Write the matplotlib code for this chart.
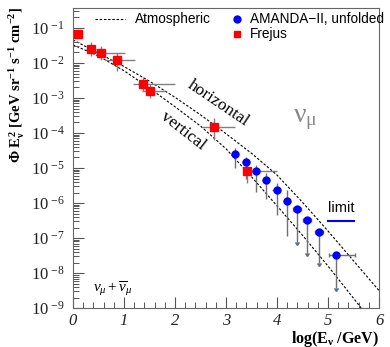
import numpy as np
import matplotlib
matplotlib.use("Agg")
import matplotlib.pyplot as plt
from matplotlib.ticker import FixedLocator, FuncFormatter, LogLocator, NullFormatter

plt.rcParams["font.family"] = "Liberation Serif"
plt.rcParams["mathtext.fontset"] = "custom"
plt.rcParams["mathtext.rm"] = "Liberation Serif"
plt.rcParams["mathtext.it"] = "Liberation Serif:italic"
plt.rcParams["mathtext.bf"] = "Liberation Serif:bold"
plt.rcParams["mathtext.fallback"] = "stix"

# atmospheric flux bands, log10(E^2 Phi)
atm_x = [0, 0.5, 1, 1.5, 2, 2.5, 3, 3.5, 4, 4.5, 5, 5.5, 6]
horiz_log = [-1.34, -1.72, -2.10, -2.52, -2.98, -3.48, -4.02, -4.58, -5.20, -5.98, -6.80, -7.65, -8.50]
vert_x = [0, 0.5, 1, 1.5, 2, 2.5, 3, 3.5, 4, 4.5, 5, 5.5, 5.65]
vert_log = [-1.48, -1.80, -2.22, -2.72, -3.25, -3.80, -4.45, -5.25, -6.08, -6.92, -7.80, -8.72, -9.0]

# Frejus
frejus_x = [0.09, 0.35, 0.55, 0.87, 1.38, 1.51, 2.76, 3.42]
frejus_log = [-1.17, -1.60, -1.71, -1.91, -2.61, -2.79, -3.84, -5.08]
frejus_xlo = [0.0, 0.10, 0.09, 0.24, 0.20, 0.16, 0.24, 0.08]
frejus_xhi = [0.0, 0.10, 0.47, 0.35, 0.62, 0.29, 0.42, 0.58]
frejus_dlo = [0.08, 0.19, 0.20, 0.33, 0.20, 0.22, 0.36, 0.35]
frejus_dhi = [0.08, 0.19, 0.20, 0.19, 0.20, 0.18, 0.26, 0.22]

# AMANDA-II unfolded
amanda_x = [3.18, 3.39, 3.58, 3.79, 3.99, 4.19, 4.39, 4.59, 4.82, 5.16]
amanda_log = [-4.60, -4.82, -5.09, -5.34, -5.63, -5.93, -6.16, -6.47, -6.84, -7.49]
amanda_xlo = [0.08, 0.08, 0.08, 0.08, 0.08, 0.08, 0.08, 0.08, 0.08, 0.14]
amanda_xhi = [0.08, 0.08, 0.08, 0.08, 0.08, 0.08, 0.08, 0.08, 0.08, 0.37]
amanda_dlo = [0.41, 0.48, 0.59, 0.53, 0.71, 1.00, 0.94, 0.96, 0.86, 0.94]
amanda_dhi = [0.16, 0.14, 0.17, 0.19, 0.20, 0.30, 0.34, 0.36, 0.50, 0.88]
amanda_arrow = [False, False, False, False, False, False, True, True, True, True]

limit_x = [5.0, 5.5]
limit_log = [-6.5, -6.5]

x_ticks = [0, 1, 2, 3, 4, 5, 6]
y_exps = [-9, -8, -7, -6, -5, -4, -3, -2, -1]


def lin(v):
    return 10.0 ** np.asarray(v)


def asym(logv, dlo, dhi):
    y = lin(logv)
    return y, [y - lin(np.asarray(logv) - np.asarray(dlo)), lin(np.asarray(logv) + np.asarray(dhi)) - y]


fig = plt.figure(figsize=(3.9, 3.47), dpi=100)
ax = fig.add_axes([0.187, 0.112, 0.785, 0.865])
ax.set_yscale("log")

dash = (0, (2.2, 1.6))
ax.plot(atm_x, lin(horiz_log), color="black", lw=0.8, linestyle=dash, zorder=1)
ax.plot(vert_x, lin(vert_log), color="black", lw=0.8, linestyle=dash, zorder=1)

# AMANDA error bars
amanda_x = np.array(amanda_x)
amanda_arrow = np.array(amanda_arrow)
ay, ayerr = asym(amanda_log, amanda_dlo, amanda_dhi)
ayerr = np.array(ayerr)
axerr = np.array([amanda_xlo, amanda_xhi])
m = ~amanda_arrow
ax.errorbar(amanda_x[m], ay[m], yerr=ayerr[:, m], xerr=axerr[:, m], fmt="none",
            ecolor="#707070", elinewidth=1.0, capsize=0, zorder=2)
ax.errorbar(amanda_x[~m], ay[~m], yerr=ayerr[:, ~m], xerr=axerr[:, ~m], fmt="none",
            ecolor="#707070", elinewidth=1.0, capsize=1.3, uplims=True, zorder=2)

# Frejus error bars
fy, fyerr = asym(frejus_log, frejus_dlo, frejus_dhi)
ax.errorbar(frejus_x, fy, yerr=fyerr, xerr=[frejus_xlo, frejus_xhi], fmt="none",
            ecolor="#808080", elinewidth=1.0, capsize=0, zorder=2)

ax.plot(amanda_x, ay, "o", color="#0000ff", ms=5, mec="#0000ff", zorder=3)
ax.plot(frejus_x, fy, "s", color="#ff0000", ms=6, mec="#ff0000", zorder=4)

ax.plot(limit_x, lin(limit_log), color="#0000ff", lw=1.5, zorder=3)
ax.text(5.25, 10 ** -6.14, "limit", family="Liberation Sans", fontsize=10.5, ha="center", va="center")

ax.text(2.84, 10 ** -3.15, "horizontal", fontsize=12.5, rotation=-34, ha="center", va="center")
ax.text(2.16, 10 ** -3.95, "vertical", fontsize=12.5, rotation=-38, ha="center", va="center")
ax.text(4.55, 10 ** -3.62, r"$\mathrm{\nu}_{\mathrm{\mu}}$", fontsize=20, color="#888888", ha="center", va="center")
ax.text(0.78, 10 ** -8.45, r"$\nu_\mu + \overline{\nu}_\mu$", fontsize=11, ha="center", va="center")

ax.set_xlim(0, 6)
ax.set_ylim(1e-9, 10 ** -0.43)

ax.set_xticks(x_ticks, labels=[str(t) for t in x_ticks], fontstyle="italic")
ax.xaxis.set_minor_locator(FixedLocator(np.arange(0, 6.01, 0.2)))
ax.yaxis.set_major_locator(FixedLocator(lin(y_exps)))
ax.yaxis.set_minor_locator(LogLocator(base=10, subs=np.arange(2, 10), numticks=20))
ax.yaxis.set_minor_formatter(NullFormatter())
ax.yaxis.set_major_formatter(FuncFormatter(lambda v, p: r"$\mathit{10}^{\ \mathrm{%d}}$" % round(np.log10(v))))
ax.tick_params(axis="both", which="both", direction="in", top=False, right=False, colors="#555555",
               labelcolor="#222222", labelsize=12)
ax.tick_params(which="major", length=8, width=0.8)
ax.tick_params(which="minor", length=4, width=0.7)
ax.tick_params(axis="y", pad=6)
for s in ax.spines.values():
    s.set_color("#666666")
    s.set_linewidth(0.8)

ax.set_ylabel(r"$\mathbf{\Phi\ E_{\nu}^{\,2}\ [GeV\ sr^{-1}\ s^{-1}\ cm^{-2}]}$", fontsize=10.5)
ax.yaxis.set_label_coords(-0.15, 0.745)
ax.set_xlabel(r"$\mathbf{log(E_{\nu}\ /GeV)}$", fontsize=11.5)
ax.xaxis.set_label_coords(1.0, -0.068)
ax.xaxis.label.set_ha("right")

# legend drawn by hand, two columns like the original
ax.plot([0.072, 0.170], [0.962, 0.962], transform=ax.transAxes, color="black", lw=0.8, linestyle=dash)
ax.text(0.203, 0.962, "Atmospheric", transform=ax.transAxes, family="Liberation Sans", fontsize=9.8, va="center")
ax.plot([0.536], [0.962], "o", transform=ax.transAxes, color="#0000ff", ms=5)
ax.text(0.578, 0.962, "AMANDA\u2212II, unfolded", transform=ax.transAxes, family="Liberation Sans", fontsize=9.8, va="center")
ax.plot([0.536], [0.912], "s", transform=ax.transAxes, color="#ff0000", ms=5)
ax.text(0.578, 0.912, "Frejus", transform=ax.transAxes, family="Liberation Sans", fontsize=9.8, va="center")

fig.savefig("out.png", dpi=100)
